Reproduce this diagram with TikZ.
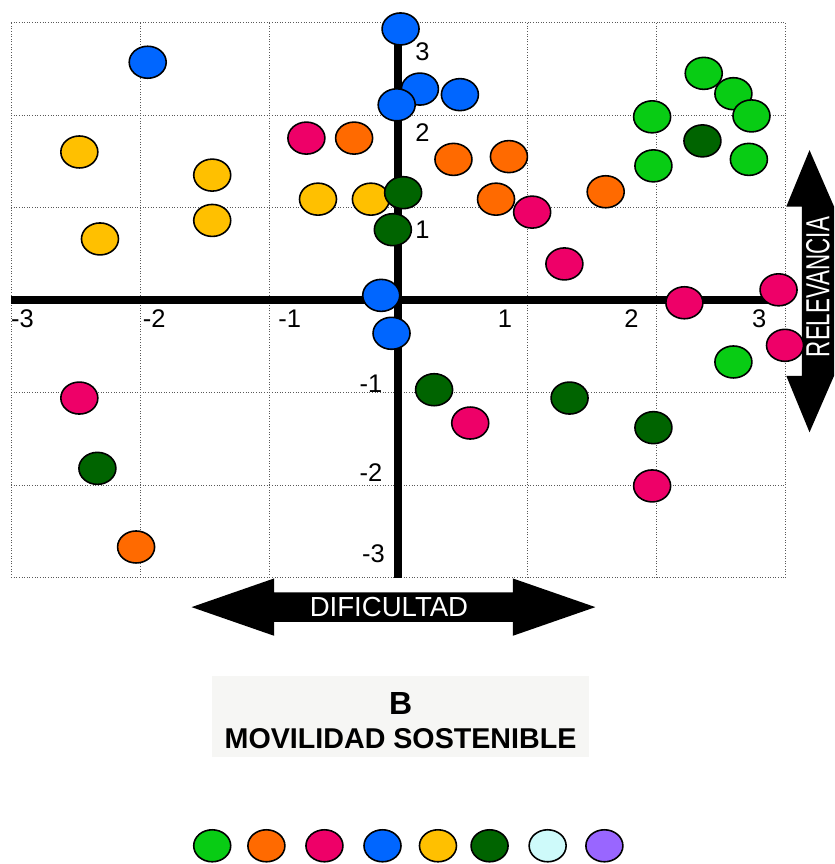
\documentclass[tikz,border=0pt]{standalone}
\usepackage{fontspec}
\setmainfont{Liberation Sans}
\usepackage{graphicx}
\usetikzlibrary{shapes.geometric}

\definecolor{verde}{RGB}{8,204,20}
\definecolor{naranja}{RGB}{255,106,0}
\definecolor{rosa}{RGB}{238,0,104}
\definecolor{azul}{RGB}{0,102,255}
\definecolor{amarillo}{RGB}{255,192,0}
\definecolor{verdeosc}{RGB}{0,100,0}
\definecolor{celeste}{RGB}{206,250,250}
\definecolor{violeta}{RGB}{153,102,255}
\definecolor{fondo}{RGB}{246,246,244}

\tikzset{
  punto/.style={ellipse, draw=black, line width=0.9pt, minimum width=0.74cm, minimum height=0.64cm, inner sep=0pt},
  eje/.style={line width=4pt},
  rejilla/.style={densely dotted, gray!70!black, line width=0.5pt},
  cifra/.style={font=\fontsize{14.5}{15}\selectfont},
}

\begin{document}
\begin{tikzpicture}[x=2.58cm,y=1.85cm]
\useasboundingbox (-3.085,-6.097) rectangle (3.380,3.243);
\foreach \k in {-3,...,3} {
  \draw[rejilla] (\k,-3) -- (\k,3);
  \draw[rejilla] (-3,\k) -- (3,\k);
}
\draw[eje] (-3,0) -- (3,0);
\draw[eje] (0,-3) -- (0,2.9);
% numeros de los ejes
\foreach \v/\x [count=\i] in {-3/-2.91,-2/-1.89,-1/-0.84,1/0.83,2/1.81,3/2.80}
  \node[cifra] (nx\i) at (\x,-0.20) {\v};
\foreach \v/\x/\y [count=\i] in {3/0.19/2.68,2/0.19/1.81,1/0.19/0.76,-1/-0.21/-0.91,-2/-0.21/-1.87,-3/-0.19/-2.74}
  \node[cifra] (ny\i) at (\x,\y) {\v};
% flechas
\fill (-1.60,-3.32) -- (-0.96,-3.01) -- (-0.96,-3.16) -- (0.89,-3.16) -- (0.89,-3.01) -- (1.53,-3.32)
  -- (0.89,-3.63) -- (0.89,-3.48) -- (-0.96,-3.48) -- (-0.96,-3.63) -- cycle;
\node[text=white, font=\fontsize{15.7}{16}\selectfont] (dif) at (-0.07,-3.32) {DIFICULTAD};
\fill (3.19,1.62) -- (3.38,1.01) -- (3.38,-0.82) -- (3.19,-1.43) -- (3.01,-0.82) -- (3.13,-0.82)
  -- (3.13,1.01) -- (3.01,1.01) -- cycle;
\node[text=white, rotate=90, inner sep=0pt, font=\fontsize{19}{19}\selectfont] (rel) at (3.255,0.14) {\scalebox{0.67}[1]{RELEVANCIA}};
% puntos
\foreach \x/\y [count=\i] in {-2.47/1.60,-1.44/1.35,-1.44/0.86,-2.31/0.66,-0.62/1.09,-0.21/1.09}
  \node[punto, fill=amarillo] (am\i) at (\x,\y) {};
\foreach \x/\y [count=\i] in {-0.34/1.75,0.43/1.52,0.86/1.55,0.76/1.09,1.61/1.17,-2.03/-2.67}
  \node[punto, fill=naranja] (na\i) at (\x,\y) {};
\foreach \x/\y [count=\i] in {-0.71/1.75,1.04/0.95,1.29/0.39,2.95/0.11,2.22/-0.03,3.00/-0.49,0.56/-1.33,1.97/-2.01,-2.47/-1.06}
  \node[punto, fill=rosa] (ro\i) at (\x,\y) {};
\foreach \x/\y [count=\i] in {-1.94/2.57,0.02/2.93,0.17/2.28,0.48/2.22,-0.01/2.11,-0.13/0.05,-0.05/-0.36}
  \node[punto, fill=azul] (az\i) at (\x,\y) {};
\foreach \x/\y [count=\i] in {1.97/1.98,1.98/1.45,2.37/2.45,2.60/2.23,2.74/1.99,2.72/1.52,2.60/-0.67}
  \node[punto, fill=verde] (ve\i) at (\x,\y) {};
\foreach \x/\y [count=\i] in {0.04/1.16,-0.04/0.76,2.36/1.72,0.28/-0.97,1.33/-1.06,1.98/-1.38,-2.33/-1.82}
  \node[punto, fill=verdeosc] (vo\i) at (\x,\y) {};
% titulo
\fill[fondo] (-1.44,-4.06) rectangle (1.48,-4.94);
\node[font=\bfseries\fontsize{18.2}{19}\selectfont] (letra) at (0.02,-4.36) {B};
\node[font=\bfseries\fontsize{16.3}{17}\selectfont] (titulo) at (0.02,-4.74) {MOVILIDAD SOSTENIBLE};
% leyenda
\foreach \x/\c [count=\i] in {-1.44/verde,-1.02/naranja,-0.57/rosa,-0.12/azul,0.31/amarillo,0.71/verdeosc,1.16/celeste,1.60/violeta}
  \node[punto, fill=\c] (ley\i) at (\x,-5.90) {};
\end{tikzpicture}
\end{document}
